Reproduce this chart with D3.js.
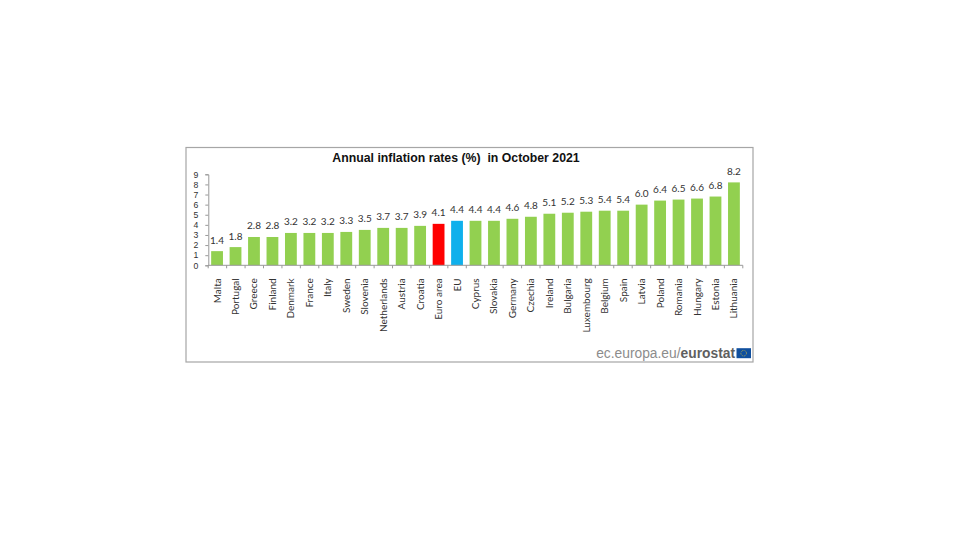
<!DOCTYPE html>
<html><head><meta charset="utf-8">
<script src="https://cdn.jsdelivr.net/npm/d3@7"></script>
<style>html,body{margin:0;padding:0;background:#fff}svg{display:block}</style>
</head><body><svg id="c" width="960" height="540"></svg>
<script>
const categories=["Malta","Portugal","Greece","Finland","Denmark","France","Italy","Sweden","Slovenia","Netherlands","Austria","Croatia","Euro area","EU","Cyprus","Slovakia","Germany","Czechia","Ireland","Bulgaria","Luxembourg","Belgium","Spain","Latvia","Poland","Romania","Hungary","Estonia","Lithuania"];
const values=[1.4,1.8,2.8,2.8,3.2,3.2,3.2,3.3,3.5,3.7,3.7,3.9,4.1,4.4,4.4,4.4,4.6,4.8,5.1,5.2,5.3,5.4,5.4,6.0,6.4,6.5,6.6,6.8,8.2];
const yTicks=[0,1,2,3,4,5,6,7,8,9];
const highlight={"Euro area":"#ff0000","EU":"#0fb0ec"};
const barColor="#92d050";
const title="Annual inflation rates (%)  in October 2021";
const credit=["ec.europa.eu/","eurostat"];

const svg=d3.select("#c");
const labelFont="Lato, 'Open Sans', sans-serif";
const inkColor="#333";
svg.append("rect").attr("x",186).attr("y",147.5).attr("width",567).attr("height",214.5)
  .attr("fill","#fff").attr("stroke","#a6a6a6").attr("stroke-width",1.2);

const x=d3.scaleBand().domain(categories).range([208.2,742.8]).paddingInner(0.36).paddingOuter(0.16);
const y=d3.scaleLinear().domain([0,9]).range([265.3,174.3]);

svg.append("text").attr("x",456).attr("y",162).attr("text-anchor","middle")
  .attr("font-family","'Liberation Sans',Arial,sans-serif").attr("font-weight","bold")
  .attr("font-size",12.3).attr("fill","#111").attr("xml:space","preserve").text(title);

svg.selectAll("rect.bar").data(categories).join("rect").attr("class","bar")
  .attr("x",d=>x(d)).attr("width",x.bandwidth())
  .attr("y",(d,i)=>y(values[i])).attr("height",(d,i)=>y(0)-y(values[i]))
  .attr("fill",d=>highlight[d]||barColor);

svg.selectAll("text.val").data(categories).join("text").attr("class","val")
  .attr("x",d=>x(d)+x.bandwidth()/2).attr("y",(d,i)=>y(values[i])-7.5)
  .attr("text-anchor","middle").attr("font-family",labelFont).attr("font-size",10)
  .attr("fill",inkColor).text((d,i)=>values[i].toFixed(1));

const yAxis=d3.axisLeft(y).tickValues(yTicks).tickSize(3).tickPadding(7).tickFormat(d3.format("d"));
const gy=svg.append("g").attr("transform","translate(208.3,0)").call(yAxis);
gy.selectAll("path,line").attr("stroke","#999");
gy.selectAll("text").attr("font-family","'Liberation Sans',Arial,sans-serif").attr("font-size",8.7).attr("fill",inkColor);

const xEdge=d3.scaleLinear().domain([0,categories.length]).range([208.2,742.8]);
const gx=svg.append("g").attr("transform",`translate(0,${y(0)})`);
gx.append("line").attr("x1",208.2).attr("x2",742.8).attr("stroke","#999");
gx.selectAll("line.t").data(d3.range(categories.length+1)).join("line").attr("class","t")
  .attr("x1",d=>xEdge(d)).attr("x2",d=>xEdge(d)).attr("y1",0).attr("y2",3).attr("stroke","#999");
gx.selectAll("text").data(categories).join("text")
  .attr("transform",d=>`translate(${x(d)+x.bandwidth()/2+3.5},13) rotate(-90)`)
  .attr("text-anchor","end").attr("font-family",labelFont).attr("font-size",10)
  .attr("fill",inkColor).text(d=>d);

const cr=svg.append("text").attr("x",735).attr("y",358).attr("text-anchor","end")
  .attr("font-family","'Liberation Sans',Arial,sans-serif").attr("font-size",13.8).attr("fill","#8c8c8c");
cr.append("tspan").text(credit[0]);
cr.append("tspan").attr("font-weight","bold").attr("fill","#5f5f5f").text(credit[1]);

// EU flag mark
svg.append("rect").attr("x",736.5).attr("y",348.2).attr("width",14.5).attr("height",10).attr("fill","#0f4f9e");
svg.append("circle").attr("cx",743.7).attr("cy",353.2).attr("r",2.8).attr("fill","none")
  .attr("stroke","#d8c23a").attr("stroke-width",0.8).attr("stroke-dasharray","0.8 0.8");
</script></body></html>
